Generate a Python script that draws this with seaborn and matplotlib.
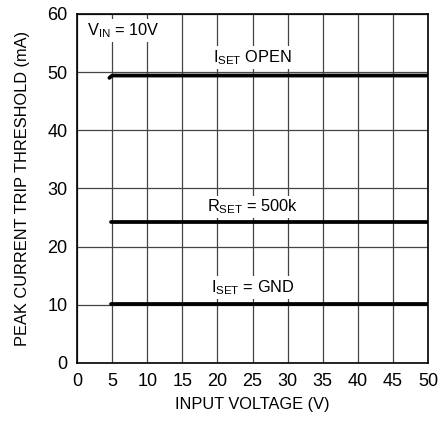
import numpy as np
import pandas as pd
import matplotlib
matplotlib.use("Agg")
import matplotlib.pyplot as plt
import seaborn as sns

# datos
vin_open = [4.6, 5.0, 50]
ipk_open = [49.0, 49.4, 49.4]
vin_500k = [4.8, 50]
ipk_500k = [24.2, 24.2]
vin_gnd = [4.8, 50]
ipk_gnd = [10.2, 10.2]

curve_names = ["open", "500k", "gnd"]
x_ticks = list(range(0, 55, 5))
y_ticks = list(range(0, 70, 10))

df = pd.concat([
    pd.DataFrame({"vin": vin_open, "ipk": ipk_open, "curve": "open"}),
    pd.DataFrame({"vin": vin_500k, "ipk": ipk_500k, "curve": "500k"}),
    pd.DataFrame({"vin": vin_gnd, "ipk": ipk_gnd, "curve": "gnd"}),
], ignore_index=True)

sns.set_style("white")
plt.rcParams["font.family"] = ["Liberation Sans Narrow", "Liberation Sans", "DejaVu Sans"]
plt.rcParams["text.color"] = "black"
plt.rcParams["axes.labelcolor"] = "black"
plt.rcParams["xtick.color"] = "black"
plt.rcParams["ytick.color"] = "black"

FS_TICK = 13
FS = 11.8

fig = plt.figure(figsize=(4.38, 4.21), dpi=100)
ax = fig.add_axes([0.176, 0.138, 0.801, 0.829])

for name in curve_names:
    sub = df[df["curve"] == name]
    sns.lineplot(data=sub, x="vin", y="ipk", ax=ax, color="black",
                 linewidth=2.7, sort=False, estimator=None, zorder=3)

ax.set_xlim(0, 50)
ax.set_ylim(0, 60)
ax.set_xticks(x_ticks)
ax.set_yticks(y_ticks)
ax.grid(True, color="#444444", linewidth=0.9)
ax.tick_params(length=0, labelsize=FS_TICK, pad=7)
for s in ax.spines.values():
    s.set_color("black")
    s.set_linewidth(1.2)
ax.set_xlabel("INPUT VOLTAGE (V)", fontsize=FS, labelpad=5)
ax.set_ylabel("PEAK CURRENT TRIP THRESHOLD (mA)", fontsize=FS, labelpad=12)

box = dict(facecolor="white", edgecolor="none", pad=1.5)
ax.text(1.4, 57.2, r"V$_{\mathregular{IN}}$ = 10V", fontsize=FS, va="center",
        ha="left", bbox=box, zorder=4)
ax.text(25, 52.5, r"I$_{\mathregular{SET}}$ OPEN", fontsize=FS, va="center",
        ha="center", bbox=box, zorder=4)
ax.text(25, 26.8, r"R$_{\mathregular{SET}}$ = 500k", fontsize=FS, va="center",
        ha="center", bbox=box, zorder=4)
ax.text(25, 13.0, r"I$_{\mathregular{SET}}$ = GND", fontsize=FS, va="center",
        ha="center", bbox=box, zorder=4)

fig.savefig("out.png", dpi=100)
